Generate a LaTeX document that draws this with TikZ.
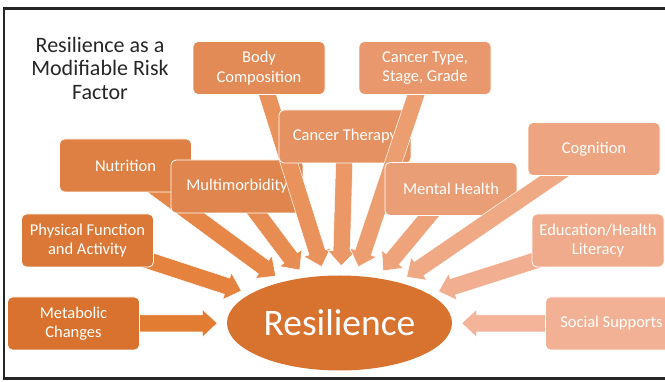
\documentclass[tikz,border=0pt]{standalone}
\usepackage{fontspec}
\setmainfont{Carlito}
\usetikzlibrary{positioning,calc,shapes.geometric}

\definecolor{boxdark}{HTML}{D9722E}
\definecolor{boxlight}{HTML}{F2B195}
\definecolor{arrowdark}{HTML}{E37C33}
\definecolor{arrowlight}{HTML}{F3B49A}
\definecolor{resfill}{HTML}{D8722F}
\definecolor{titlegray}{HTML}{262626}

\tikzset{
    factor/.style={rounded corners=5pt, draw=white, line width=.8pt,
        minimum width=132pt, minimum height=53pt, inner sep=2pt,
        align=center, text=white, font=\fontsize{16.5}{19.5}\selectfont,
        fill=boxdark!#1!boxlight},
    core/.style={ellipse, fill=resfill, minimum width=225pt,
        minimum height=95pt, inner sep=0pt, text=white,
        font=\fontsize{37.5}{40}\selectfont}
}

% block arrow from a factor's centre towards the core, stopping short of it
\newcommand\fatarrow[2]{%
    \path (#1.center) -- (res) coordinate[pos=1] (#1-e);
    \coordinate (#1-t) at ($(#1-e)!9.5pt!(#1.center)$);
    \coordinate (#1-b) at ($(#1-t)!15pt!(#1.center)$);
    \filldraw[fill=arrowdark!#2!arrowlight, draw=white, line width=.5pt]
        ($(#1.center)!8.5pt!90:(#1-t)$) -- ($(#1-b)!8.5pt!90:(#1-t)$)
        -- ($(#1-b)!14pt!90:(#1-t)$) -- (#1-t)
        -- ($(#1-b)!14pt!-90:(#1-t)$) -- ($(#1-b)!8.5pt!-90:(#1-t)$)
        -- ($(#1.center)!8.5pt!-90:(#1-t)$) -- cycle;
}

\begin{document}
\begin{tikzpicture}[x=1pt, y=-1pt]
\useasboundingbox (0,0) rectangle (665,382);
\clip (0,0) rectangle (665,382);

% slide frame
\draw[line width=2.4pt, black!85] (670,8.5) -- (4,8.5) -- (4,378.5) -- (670,378.5);

\node[align=center, text=titlegray, font=\fontsize{22}{23.5}\selectfont]
    (title) at (100,68) {Resilience as a\\Modifiable Risk\\Factor};

\node[core] (res) at (339.5,323) {Resilience};

% factor centres
\coordinate (met) at (73.5,323.5);
\coordinate (phys) at (87.5,240.5);
\coordinate (nut) at (125.5,165.5);
\coordinate (multi) at (237,186.5);
\coordinate (body) at (259,68);
\coordinate (ther) at (345,136.5);
\coordinate (type) at (425,68);
\coordinate (ment) at (451,189);
\coordinate (cog) at (594,149);
\coordinate (edu) at (598,240.5);
\coordinate (soc) at (611.5,323.5);

\fatarrow{met}{100}
\fatarrow{phys}{90}
\fatarrow{nut}{80}
\node[factor=100] (met-box) at (met) {Metabolic\\Changes};
\node[factor=90] (phys-box) at (phys) {Physical Function\\and Activity};
\node[factor=80] (nut-box) at (nut) {Nutrition};

\fatarrow{multi}{70}
\node[factor=70] (multi-box) at (multi) {Multimorbidity};
\fatarrow{body}{60}
\node[factor=60] (body-box) at (body) {Body\\Composition};
\fatarrow{ther}{50}
\node[factor=50] (ther-box) at (ther) {Cancer Therapy};
\fatarrow{type}{40}
\node[factor=40] (type-box) at (type) {Cancer Type,\\Stage, Grade};
\fatarrow{ment}{30}
\node[factor=30] (ment-box) at (ment) {Mental Health};
\fatarrow{cog}{20}
\node[factor=20] (cog-box) at (cog) {Cognition};
\fatarrow{edu}{10}
\node[factor=10] (edu-box) at (edu) {Education/Health\\Literacy};
\fatarrow{soc}{0}
\node[factor=0] (soc-box) at (soc) {Social Supports};
\end{tikzpicture}
\end{document}
